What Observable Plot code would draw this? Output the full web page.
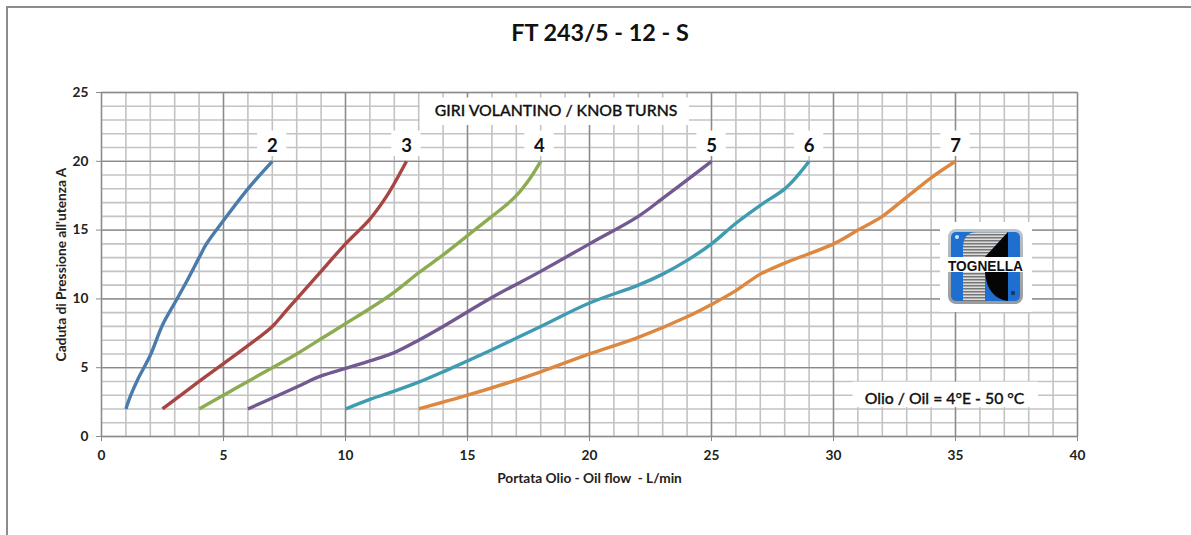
<!DOCTYPE html>
<html><head><meta charset="utf-8">
<script src="https://cdn.jsdelivr.net/npm/d3@7"></script>
<script src="https://cdn.jsdelivr.net/npm/@observablehq/plot@0.6"></script>
<style>
html,body{margin:0;padding:0;background:#fff;width:1191px;height:535px;overflow:hidden}
#wrap{position:relative;width:1191px;height:535px;font-family:Lato,sans-serif}
#title{position:absolute;left:0;width:1200px;top:18px;text-align:center;font-size:23.4px;font-weight:700;color:#111}
.fl{position:absolute;background:#8c8c8c}
#logo{position:absolute;left:940px;top:222px}
svg{display:block}
</style></head><body>
<div id="wrap"><div id="chart"></div>
<div class="fl" style="left:6px;top:6px;width:1.5px;height:529px"></div>
<div class="fl" style="left:6px;top:6px;width:1185px;height:1.5px"></div>
<div id="title">FT 243/5 - 12 - S</div>
<svg id="logo" width="92" height="90" viewBox="0 0 92 90">
<rect x="0" y="0" width="92" height="90" fill="#fff"/>
<defs><pattern id="st" width="3" height="3" patternUnits="userSpaceOnUse"><rect width="3" height="3" fill="#dcdcdc"/><rect width="3" height="1.5" fill="#777"/></pattern>
<linearGradient id="bz" x1="0" y1="0" x2="0" y2="1"><stop offset="0" stop-color="#b9c6cf"/><stop offset="1" stop-color="#9a9a9a"/></linearGradient></defs>
<rect x="8" y="7" width="75" height="75" rx="8" fill="url(#bz)"/>
<rect x="11" y="10" width="69" height="69" rx="5" fill="#1f6fd0"/>
<path d="M23 79V26Q23 10 37 10H68L45 35V79Z" fill="url(#st)"/>
<path d="M68 10V79Q47 76 45 50V35Z" fill="#050505"/>
<circle cx="17" cy="15" r="2" fill="#cfe6ff"/>
<circle cx="73" cy="71" r="2.2" fill="#123a6a"/>
<rect x="8" y="35" width="75" height="15" fill="#fff"/>
<text x="45.5" y="48.5" text-anchor="middle" font-family="Liberation Sans" font-weight="700" font-size="15" textLength="75" lengthAdjust="spacingAndGlyphs" fill="#111">TOGNELLA</text>
</svg></div>
<script>
const turnLabels = ["2","3","4","5","6","7"];
const lineColors = ["#4a7bab","#a84543","#8dab50","#72598f","#3f9bb2","#dd873f"];
const flow2 = [1,1.2,1.5,2,2.5,3,3.5,4,4.3,5,6,7];
const drop2 = [2,3,4.2,5.9,8.1,9.7,11.3,13,14,15.7,18,20];
const flow3 = [2.5,4,5,6,7,7.5,8,9,10,11,11.7,12.5];
const drop3 = [2,4,5.3,6.6,8,9,10,12,14,15.8,17.5,20];
const flow4 = [4,5,6,7,8,9,10,11,12,13,14,15,16,16.5,17,17.5,18];
const drop4 = [2,3,4,5,6,7.1,8.2,9.3,10.5,11.9,13.2,14.6,16,16.7,17.5,18.6,20];
const flow5 = [6,7,8,9,10,11,12,13,14,16,18,20,22,23,25];
const drop5 = [2,2.8,3.6,4.4,4.95,5.5,6.1,7,8,10.1,12,14,16,17.3,20];
const flow6 = [10,11,12,13,14,16,18,20,22,23,24,25,26,27,28,28.5,29];
const drop6 = [2,2.7,3.3,3.95,4.7,6.3,8,9.7,11,11.8,12.8,14,15.5,16.8,18,18.9,20];
const flow7 = [13,15,17,18,20,22,24,25,26,27,28,30,31,32,33,34,35];
const drop7 = [2,3,4.1,4.7,6,7.2,8.7,9.6,10.6,11.8,12.6,14,15,16,17.4,18.8,20];
const flows = [flow2,flow3,flow4,flow5,flow6,flow7];
const drops = [drop2,drop3,drop4,drop5,drop6,drop7];
const labelX = [7,12.5,17.95,25,29,35];
const labelY = 21.1;
const xMinor = d3.range(0,41), yMinor = d3.range(0,26);
const xMajor = [0,5,10,15,20,25,30,35,40], yMajor = [0,5,10,15,20,25];
const curves = turnLabels.flatMap((t,i)=>flows[i].map((f,j)=>({turn:t,flow:f,drop:drops[i][j]})));
const notes = [
 {t:"GIRI VOLANTINO / KNOB TURNS",x:18.63,y:23.65,x1:13.07,x2:24.1,y1:22.6,y2:24.6},
 {t:"Olio / Oil = 4°E - 50 °C",x:34.55,y:2.75,x1:30.8,x2:38.4,y1:2.1,y2:3.95}
];
const lab = turnLabels.map((t,i)=>({t,x:labelX[i]}));
const minorC="#c3c3c3", majorC="#8a8a8a", font="Lato, sans-serif";
const chart = Plot.plot({
 width:1191,height:535,marginTop:92,marginLeft:101,marginRight:114,marginBottom:99,
 style:{fontFamily:font,background:"transparent"},
 x:{domain:[0,40],range:[101,1077]},
 y:{domain:[0,25],range:[436,92]},
 marks:[
  Plot.ruleX(xMinor,{stroke:minorC,strokeWidth:1.6}),
  Plot.ruleY(yMinor,{stroke:minorC,strokeWidth:1.6}),
  Plot.ruleX(xMajor,{stroke:majorC,strokeWidth:1.3}),
  Plot.ruleY(yMajor,{stroke:majorC,strokeWidth:1.3}),
  Plot.line(curves,{x:"flow",y:"drop",z:"turn",stroke:d=>lineColors[turnLabels.indexOf(d.turn)],strokeWidth:3.4,curve:"catmull-rom",strokeLinecap:"butt"}),
  Plot.rect(lab,{x1:d=>d.x-0.6,x2:d=>d.x+0.6,y1:20.35,y2:22.2,fill:"#fff"}),
  Plot.rect(notes,{x1:"x1",x2:"x2",y1:"y1",y2:"y2",fill:"#fff"}),
  Plot.text(lab,{x:"x",y:labelY,text:"t",fontSize:18.5,fontWeight:700,fill:"#111"}),
  Plot.text(notes,{x:"x",y:"y",text:"t",fontSize:15.8,fontWeight:500,fill:"#111",stroke:"#111",strokeWidth:0.3}),
  Plot.axisX(xMajor,{anchor:"bottom",tickSize:5,tickPadding:9,fontSize:14,stroke:majorC,color:"#444",label:"Portata Olio - Oil flow  - L/min",labelAnchor:"center",labelArrow:"none",labelOffset:46}),
  Plot.axisY(yMajor,{anchor:"left",tickSize:5,tickPadding:8,fontSize:14,stroke:majorC,color:"#444",label:"Caduta di Pressione all'utenza A",labelAnchor:"center",labelArrow:"none",labelOffset:45})
 ]
});
d3.select(chart).selectAll("[aria-label='x-axis label'] text, [aria-label='y-axis label'] text, g[aria-label$='label'] text").style("font-weight",700).style("font-size","13.7px").style("fill","#222");
document.getElementById("chart").appendChild(chart);
</script></body></html>
